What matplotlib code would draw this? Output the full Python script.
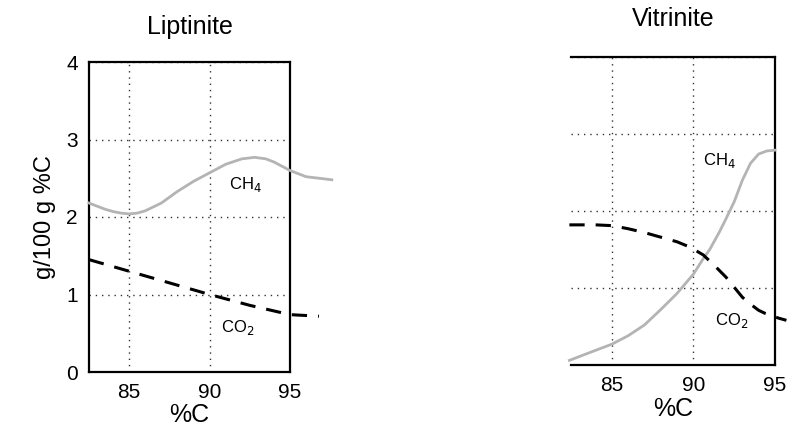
import matplotlib
matplotlib.use("Agg")
import matplotlib.pyplot as plt

plt.rcParams['font.family'] = ['Liberation Sans', 'DejaVu Sans']

# Liptinite
lip_ch4_x = [82.5, 83, 83.5, 84, 84.5, 85, 85.5, 86, 87, 88, 89, 90, 91, 92, 92.8, 93.5, 94, 95, 96, 97.6]
lip_ch4_y = [2.18, 2.14, 2.10, 2.07, 2.05, 2.04, 2.05, 2.08, 2.18, 2.33, 2.46, 2.57, 2.68, 2.75, 2.77, 2.75, 2.71, 2.60, 2.52, 2.48]
lip_co2_x = [82.5, 85, 87.5, 90, 92.5, 95, 96.8]
lip_co2_y = [1.45, 1.30, 1.15, 1.00, 0.86, 0.74, 0.72]

# Vitrinite
vit_ch4_x = [82.4, 84, 85, 86, 87, 88, 89, 90, 90.6, 91, 91.6, 92, 92.5, 93, 93.5, 94, 94.5, 95]
vit_ch4_y = [0.06, 0.19, 0.27, 0.38, 0.52, 0.72, 0.93, 1.18, 1.38, 1.50, 1.73, 1.90, 2.12, 2.40, 2.62, 2.74, 2.78, 2.79]
vit_co2_x = [82.4, 84, 85, 86, 87, 88, 89, 89.8, 90.6, 91.3, 92, 92.5, 93, 93.5, 94, 94.4, 94.7, 95.2, 95.7]
vit_co2_y = [1.82, 1.82, 1.81, 1.77, 1.72, 1.66, 1.60, 1.53, 1.43, 1.29, 1.14, 1.01, 0.88, 0.79, 0.71, 0.67, 0.65, 0.61, 0.58]

x_ticks = [85, 90, 95]
y_ticks = [0, 1, 2, 3, 4]

W, H = 787, 430
fig = plt.figure(figsize=(W / 100, H / 100), dpi=100)

ax1 = fig.add_axes([89 / W, 1 - 372 / H, (290 - 89) / W, (372 - 62) / H])
ax2 = fig.add_axes([571 / W, 1 - 365 / H, (775 - 571) / W, (365 - 57) / H])

ch4_kw = dict(color='#b4b4b4', lw=2.0, clip_on=False, zorder=3)
co2_kw = dict(color='black', lw=2.2, dashes=(5, 3.6), clip_on=False, zorder=4)
grid_kw = dict(color='#333333', lw=1.0, linestyle=(0, (1, 3.5)))

for ax in (ax1, ax2):
    ax.set_xlim(82.5, 95)
    ax.set_ylim(0, 4)
    ax.set_xticks(x_ticks)
    ax.set_yticks(y_ticks)
    ax.tick_params(length=0, labelsize=15, pad=8)
    ax.grid(True, **grid_kw)
    for s in ax.spines.values():
        s.set_linewidth(1.6)
    ax.set_xlabel('%C', fontsize=18, labelpad=1)

ax1.plot(lip_ch4_x, lip_ch4_y, **ch4_kw)
ax1.plot(lip_co2_x, lip_co2_y, **co2_kw)
ax1.set_title('Liptinite', fontsize=18, pad=20)
ax1.set_ylabel('g/100 g %C', fontsize=17, labelpad=7)
ax1.text(91.2, 2.42, 'CH$_4$', fontsize=12, ha='left', va='center')
ax1.text(90.7, 0.57, 'CO$_2$', fontsize=12, ha='left', va='center')

ax2.plot(vit_ch4_x, vit_ch4_y, **ch4_kw)
ax2.plot(vit_co2_x, vit_co2_y, **co2_kw)
ax2.spines['left'].set_visible(False)
ax2.tick_params(axis='y', labelleft=False)
ax2.set_title('Vitrinite', fontsize=18, pad=22)
ax2.text(90.6, 2.65, 'CH$_4$', fontsize=12, ha='left', va='center')
ax2.text(91.3, 0.58, 'CO$_2$', fontsize=12, ha='left', va='center')

fig.savefig('out.png', dpi=100)
